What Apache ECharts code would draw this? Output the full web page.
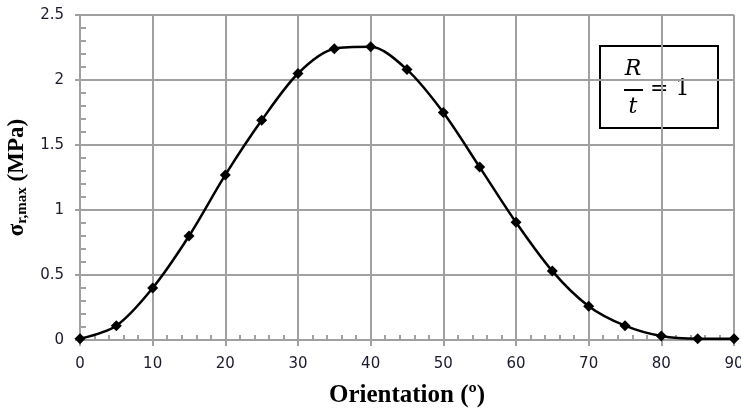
<!DOCTYPE html>
<html>
<head>
<meta charset="utf-8">
<script src="https://cdn.jsdelivr.net/npm/echarts@6/dist/echarts.min.js"></script>
<style>
  html, body { margin: 0; padding: 0; background: #fff; }
  #chart { width: 741px; height: 410px; }
</style>
</head>
<body>
<div id="chart"></div>
<script>
// orientation angle (deg) and max stress (MPa)
const angles = [0, 5, 10, 15, 20, 25, 30, 35, 40, 45, 50, 55, 60, 65, 70, 75, 80, 85, 90];
const stress = [0.01, 0.11, 0.40, 0.80, 1.27, 1.69, 2.05, 2.24, 2.255, 2.08, 1.75, 1.33, 0.905, 0.53, 0.26, 0.11, 0.03, 0.01, 0.01];
const xTicks = [0, 90, 10];   // min, max, step
const yTicks = [0, 2.5, 0.5];

const gridColor = '#a0a0a0';
const chart = echarts.init(document.getElementById('chart'));

const labelStyle = { fontFamily: 'DejaVu Sans', fontSize: 15, color: '#1a1a2e' };

chart.setOption({
  animation: false,
  grid: { left: 80, right: 7, top: 15, bottom: 70, containLabel: false, outerBoundsMode: 'none' },
  xAxis: [
    {
      type: 'value', min: xTicks[0], max: xTicks[1], interval: xTicks[2],
      name: 'Orientation (º)', nameLocation: 'middle', nameGap: 43,
      nameTextStyle: { fontFamily: 'Liberation Serif', fontWeight: 'bold', fontSize: 25, color: '#000' },
      axisLine: { show: true, onZero: false, lineStyle: { color: gridColor, width: 2 } },
      axisTick: { show: true, inside: true, length: 5, lineStyle: { color: gridColor, width: 2 } },
      minorTick: { show: true, splitNumber: 5, length: 5, lineStyle: { color: gridColor, width: 2 } },
      axisLabel: Object.assign({ margin: 17 }, labelStyle),
      splitLine: { show: true, lineStyle: { color: gridColor, width: 2 } }
    },
    {
      // outward major ticks only
      type: 'value', min: xTicks[0], max: xTicks[1], interval: xTicks[2], position: 'bottom',
      axisLine: { show: false, onZero: false }, axisLabel: { show: false }, splitLine: { show: false },
      axisTick: { show: true, length: 6, lineStyle: { color: gridColor, width: 2 } }
    }
  ],
  yAxis: [
    {
      type: 'value', min: yTicks[0], max: yTicks[1], interval: yTicks[2],
      name: '{s|σ}{sub|r,max}{s| (MPa)}', nameLocation: 'middle', nameGap: 50, nameRotate: 90,
      nameTextStyle: {
        rich: {
          s: { fontFamily: 'Liberation Serif', fontWeight: 'bold', fontSize: 23, color: '#000' },
          sub: { fontFamily: 'Liberation Serif', fontWeight: 'bold', fontSize: 15, color: '#000', verticalAlign: 'bottom', padding: [9, 0, 0, 0] }
        }
      },
      axisLine: { show: true, onZero: false, lineStyle: { color: gridColor, width: 2 } },
      axisTick: { show: true, inside: true, length: 6, lineStyle: { color: gridColor, width: 2 } },
      minorTick: { show: true, splitNumber: 5, length: 6, lineStyle: { color: gridColor, width: 2 } },
      axisLabel: Object.assign({ margin: 16 }, labelStyle),
      splitLine: { show: true, lineStyle: { color: gridColor, width: 2 } }
    },
    {
      type: 'value', min: yTicks[0], max: yTicks[1], interval: yTicks[2], position: 'left',
      axisLine: { show: false, onZero: false }, axisLabel: { show: false }, splitLine: { show: false },
      axisTick: { show: true, length: 5, lineStyle: { color: gridColor, width: 2 } }
    }
  ],
  series: [
    {
      type: 'line',
      data: angles.map((a, i) => [a, stress[i]]),
      smooth: 0.3,
      symbol: 'diamond',
      symbolSize: 11,
      lineStyle: { color: '#000', width: 2.5 },
      itemStyle: { color: '#000' }
    }
  ],
  graphic: [
    {
      type: 'group', left: 599, top: 45,
      children: [
        { type: 'rect', shape: { x: 0, y: 0, width: 118, height: 82 }, style: { fill: '#fff', stroke: '#000', lineWidth: 2 } },
        { type: 'text', x: 33, y: 12, style: { text: 'R', font: 'italic 22px "DejaVu Serif"', fill: '#000', align: 'center' } },
        { type: 'line', shape: { x1: 24, y1: 44, x2: 43, y2: 44 }, style: { stroke: '#000', lineWidth: 2 } },
        { type: 'text', x: 33, y: 50, style: { text: 't', font: 'italic 22px "DejaVu Serif"', fill: '#000', align: 'center' } },
        { type: 'text', x: 50, y: 32, style: { text: '= 1', font: '22px "DejaVu Serif"', fill: '#000' } }
      ]
    }
  ]
});
</script>
</body>
</html>
